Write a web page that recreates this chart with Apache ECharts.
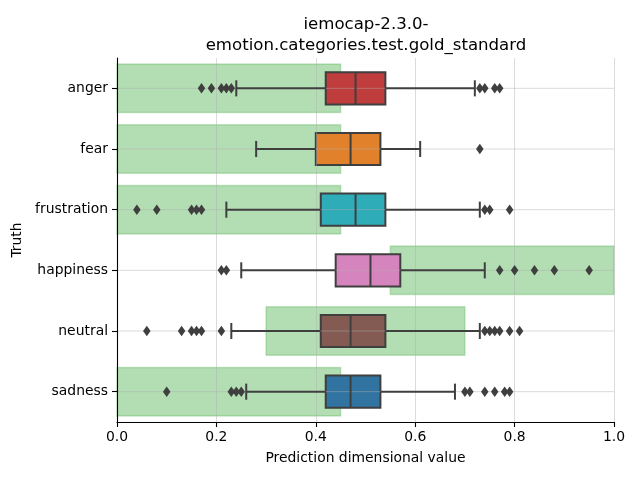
<!DOCTYPE html>
<html><head><meta charset="utf-8">
<script src="https://cdn.jsdelivr.net/npm/echarts@6/dist/echarts.min.js"></script>
<style>html,body{margin:0;padding:0;background:#fff}#c{width:640px;height:480px}</style>
</head><body><div id="c"></div>
<script>
const categories = ['anger', 'fear', 'frustration', 'happiness', 'neutral', 'sadness'];
const boxColors = ['#c03d3e', '#e1812c', '#2eacb8', '#d684bd', '#845b53', '#3274a1'];
const rangeStart = [0, 0, 0, 0.55, 0.30, 0];
const rangeEnd = [0.45, 0.45, 0.45, 1.0, 0.70, 0.45];
const whiskerLow = [0.24, 0.28, 0.22, 0.25, 0.23, 0.26];
const q1 = [0.42, 0.40, 0.41, 0.44, 0.41, 0.42];
const median = [0.48, 0.47, 0.48, 0.51, 0.47, 0.47];
const q3 = [0.54, 0.53, 0.54, 0.57, 0.54, 0.53];
const whiskerHigh = [0.72, 0.61, 0.73, 0.74, 0.73, 0.68];
const outliersAnger = [0.17, 0.19, 0.21, 0.22, 0.23, 0.73, 0.74, 0.76, 0.77];
const outliersFear = [0.73];
const outliersFrustration = [0.04, 0.08, 0.15, 0.16, 0.17, 0.74, 0.75, 0.79];
const outliersHappiness = [0.21, 0.22, 0.77, 0.80, 0.84, 0.88, 0.95];
const outliersNeutral = [0.06, 0.13, 0.15, 0.16, 0.17, 0.21, 0.74, 0.75, 0.76, 0.77, 0.79, 0.81];
const outliersSadness = [0.10, 0.23, 0.24, 0.25, 0.70, 0.71, 0.74, 0.76, 0.78, 0.79];
const xTicks = [0, 0.2, 0.4, 0.6, 0.8, 1.0];

const outlierLists = [outliersAnger, outliersFear, outliersFrustration, outliersHappiness, outliersNeutral, outliersSadness];
const LINE = '#3f3f3f';
const FONT = 'DejaVu Sans';

const rangeData = categories.map((c, i) => [i, rangeStart[i], rangeEnd[i]]);
const boxData = categories.map((c, i) => [i, whiskerLow[i], q1[i], median[i], q3[i], whiskerHigh[i]]);
const gridData = categories.map((c, i) => [i, 0, 1]);
const outlierData = [];
outlierLists.forEach((arr, i) => arr.forEach(v => outlierData.push([v, i])));

const chart = echarts.init(document.getElementById('c'), null, {renderer: 'canvas'});
chart.setOption({
  animation: false,
  backgroundColor: '#fff',
  title: {
    text: 'iemocap-2.3.0-\nemotion.categories.test.gold_standard',
    left: 361, top: 9, textAlign: 'center',
    textStyle: {fontFamily: FONT, fontSize: 16.6, fontWeight: 'normal', color: '#000', lineHeight: 21}
  },
  grid: {left: 117, right: 26, top: 58, bottom: 58, containLabel: false},
  xAxis: {
    type: 'value', min: 0, max: 1, interval: 0.2, z: 3,
    name: 'Prediction dimensional value', nameLocation: 'middle', nameGap: 29,
    nameTextStyle: {fontFamily: FONT, fontSize: 13.9, color: '#000'},
    axisLine: {show: true, lineStyle: {color: '#000', width: 1.1}},
    axisTick: {show: true, length: 5, inside: false, lineStyle: {color: '#000', width: 1.1}},
    axisLabel: {fontFamily: FONT, fontSize: 13.9, color: '#000', margin: 8, formatter: v => v.toFixed(1)},
    splitLine: {show: true, lineStyle: {color: 'rgba(176,176,176,0.45)', width: 1}}
  },
  yAxis: {
    type: 'category', data: categories, inverse: true, z: 3,
    name: 'Truth', nameLocation: 'middle', nameGap: 86,
    nameTextStyle: {fontFamily: FONT, fontSize: 13.9, color: '#000'},
    axisLine: {show: true, lineStyle: {color: '#000', width: 1.1}},
    axisTick: {show: true, alignWithLabel: true, length: 5, lineStyle: {color: '#000', width: 1.1}},
    axisLabel: {fontFamily: FONT, fontSize: 13.9, color: '#000', margin: 9},
    splitLine: {show: false}
  },
  series: [
    {
      type: 'custom', z: 1, data: rangeData, encode: {x: [1, 2], y: 0}, silent: true,
      renderItem: function (params, api) {
        const i = api.value(0);
        const band = api.size([0, 1])[1];
        const h = band * 0.8;
        const a = api.coord([api.value(1), i]);
        const b = api.coord([api.value(2), i]);
        return {type: 'rect', shape: {x: a[0], y: a[1] - h / 2, width: b[0] - a[0], height: h},
          style: {fill: 'rgba(44,160,44,0.36)', stroke: 'rgba(44,160,44,0.25)', lineWidth: 1.5}};
      }
    },
    {
      type: 'custom', z: 2, data: boxData, encode: {x: [1, 2, 3, 4, 5], y: 0}, silent: true,
      renderItem: function (params, api) {
        const i = api.value(0);
        const band = api.size([0, 1])[1];
        const h = band * 0.53;
        const a = api.coord([api.value(2), i]);
        const b = api.coord([api.value(4), i]);
        return {type: 'rect', shape: {x: a[0], y: a[1] - h / 2, width: b[0] - a[0], height: h},
          style: {fill: boxColors[i], stroke: LINE, lineWidth: 2}};
      }
    },
    {
      type: 'custom', z: 3, data: gridData, encode: {x: [1, 2], y: 0}, silent: true,
      renderItem: function (params, api) {
        const i = api.value(0);
        const a = api.coord([api.value(1), i]);
        const b = api.coord([api.value(2), i]);
        return {type: 'line', shape: {x1: a[0], y1: a[1], x2: b[0], y2: b[1]},
          style: {stroke: 'rgba(176,176,176,0.45)', lineWidth: 1}};
      }
    },
    {
      type: 'custom', z: 4, data: boxData, encode: {x: [1, 2, 3, 4, 5], y: 0}, silent: true,
      renderItem: function (params, api) {
        const i = api.value(0);
        const band = api.size([0, 1])[1];
        const h = band * 0.53;
        const cap = h / 4;
        const lo = api.coord([api.value(1), i]);
        const p1 = api.coord([api.value(2), i]);
        const md = api.coord([api.value(3), i]);
        const p3 = api.coord([api.value(4), i]);
        const hi = api.coord([api.value(5), i]);
        const y = lo[1];
        const st = {stroke: LINE, lineWidth: 2};
        return {type: 'group', children: [
          {type: 'line', shape: {x1: lo[0], y1: y, x2: p1[0], y2: y}, style: st},
          {type: 'line', shape: {x1: p3[0], y1: y, x2: hi[0], y2: y}, style: st},
          {type: 'line', shape: {x1: lo[0], y1: y - cap, x2: lo[0], y2: y + cap}, style: st},
          {type: 'line', shape: {x1: hi[0], y1: y - cap, x2: hi[0], y2: y + cap}, style: st},
          {type: 'line', shape: {x1: md[0], y1: y - h / 2, x2: md[0], y2: y + h / 2}, style: st}
        ]};
      }
    },
    {
      type: 'scatter', z: 5, data: outlierData, symbol: 'diamond', symbolSize: [7.5, 10.5],
      itemStyle: {color: LINE, opacity: 1}, silent: true
    }
  ]
});
</script></body></html>
